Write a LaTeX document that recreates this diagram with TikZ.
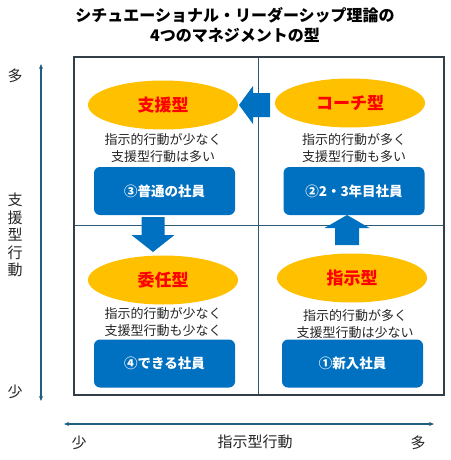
\documentclass[tikz,border=0pt]{standalone}
\usepackage{fontspec}
\setmainfont{Noto Sans CJK JP}
\usetikzlibrary{arrows.meta}
\definecolor{gold}{HTML}{FFC000}
\definecolor{boxblue}{HTML}{0070C0}
\definecolor{axisc}{HTML}{1F5F7F}
\definecolor{frame}{HTML}{333F48}
\definecolor{midline}{HTML}{2E5A78}
\tikzset{
  typ/.style={ellipse, fill=gold, minimum width=150pt, minimum height=49pt, inner sep=0pt,
    text=red, font=\fontsize{17}{20}\selectfont\bfseries},
  desc/.style={align=center, font=\fontsize{13}{16.5}\selectfont, text=black!85, inner sep=0pt},
  emp/.style={rectangle, rounded corners=6pt, fill=boxblue, text=white, minimum width=141pt,
    minimum height=48pt, inner sep=0pt, font=\fontsize{13.5}{16}\selectfont\bfseries},
  axis/.style={draw=axisc, line width=1.1pt, {Stealth[length=5pt,width=4pt]}-{Stealth[length=5pt,width=4pt]}},
  axlab/.style={font=\fontsize{15}{17}\selectfont, text=black!85, inner sep=0pt},
  bigarrow/.style={fill=boxblue},
}
\usetikzlibrary{shapes.geometric}
\begin{document}
\begin{tikzpicture}[x=1pt,y=-1pt]
\useasboundingbox (0,0) rectangle (450,460);
\fill[white] (0,0) rectangle (450,460);
% title
\node[font=\fontsize{16}{20}\selectfont\bfseries, align=center, inner sep=0pt] (title) at (235,25)
  {シチュエーショナル・リーダーシップ理論の\\4つのマネジメントの型};
% frame
\draw[midline, line width=0.9pt] (258,57) -- (258,395);
\draw[midline, line width=0.9pt] (74,225) -- (444,225);
\draw[frame, line width=1.4pt] (74,57) rectangle (444,395);
% ellipses
\node[typ] (tl) at (163,105) {支援型};
\node[typ] (tr) at (350,103) {コーチ型};
\node[typ] (bl) at (163,280) {委任型};
\node[typ] (br) at (352,278) {指示型};
% descriptions
\node[desc] (dtl) at (163,148) {指示的行動が少なく\\支援型行動は多い};
\node[desc] (dtr) at (354,148) {指示的行動が多く\\支援型行動も多い};
\node[desc] (dbl) at (163,322) {指示的行動が少なく\\支援型行動も少なく};
\node[desc] (dbr) at (355,324) {指示的行動が多く\\支援型行動は少ない};
% employee boxes
\node[emp] (etl) at (164.5,191) {③普通の社員};
\node[emp] (etr) at (354,191) {②2・3年目社員};
\node[emp] (ebl) at (164.5,363.5) {④できる社員};
\node[emp] (ebr) at (352.5,363.5) {①新入社員};
% big arrows
\fill[bigarrow] (239,105) -- (253,86) -- (253,93) -- (270,93) -- (270,117) -- (253,117) -- (253,124) -- cycle;
\fill[bigarrow] (153,252) -- (131.5,235) -- (141.5,235) -- (141.5,217) -- (164.5,217) -- (164.5,235) -- (174.5,235) -- cycle;
\fill[bigarrow] (347,215) -- (369.5,228) -- (359,228) -- (359,245) -- (335,245) -- (335,228) -- (324.5,228) -- cycle;
% axes
\coordinate (vt) at (41,64);
\coordinate (vb) at (41,401);
\draw[axis] (vt) -- (vb);
\coordinate (hl) at (64,424);
\coordinate (hr) at (434,424);
\draw[axis] (hl) -- (hr);
\node[axlab] (vmany) at (15,76) {多};
\node[axlab] (vfew) at (15,392) {少};
\node[axlab, align=center, font=\fontsize{15}{17.5}\selectfont] (vlab) at (15,235) {支\\援\\型\\行\\動};
\node[axlab] (hfew) at (79,443) {少};
\node[axlab] (hlab) at (255,442) {指示型行動};
\node[axlab] (hmany) at (418,443) {多};
\end{tikzpicture}
\end{document}
